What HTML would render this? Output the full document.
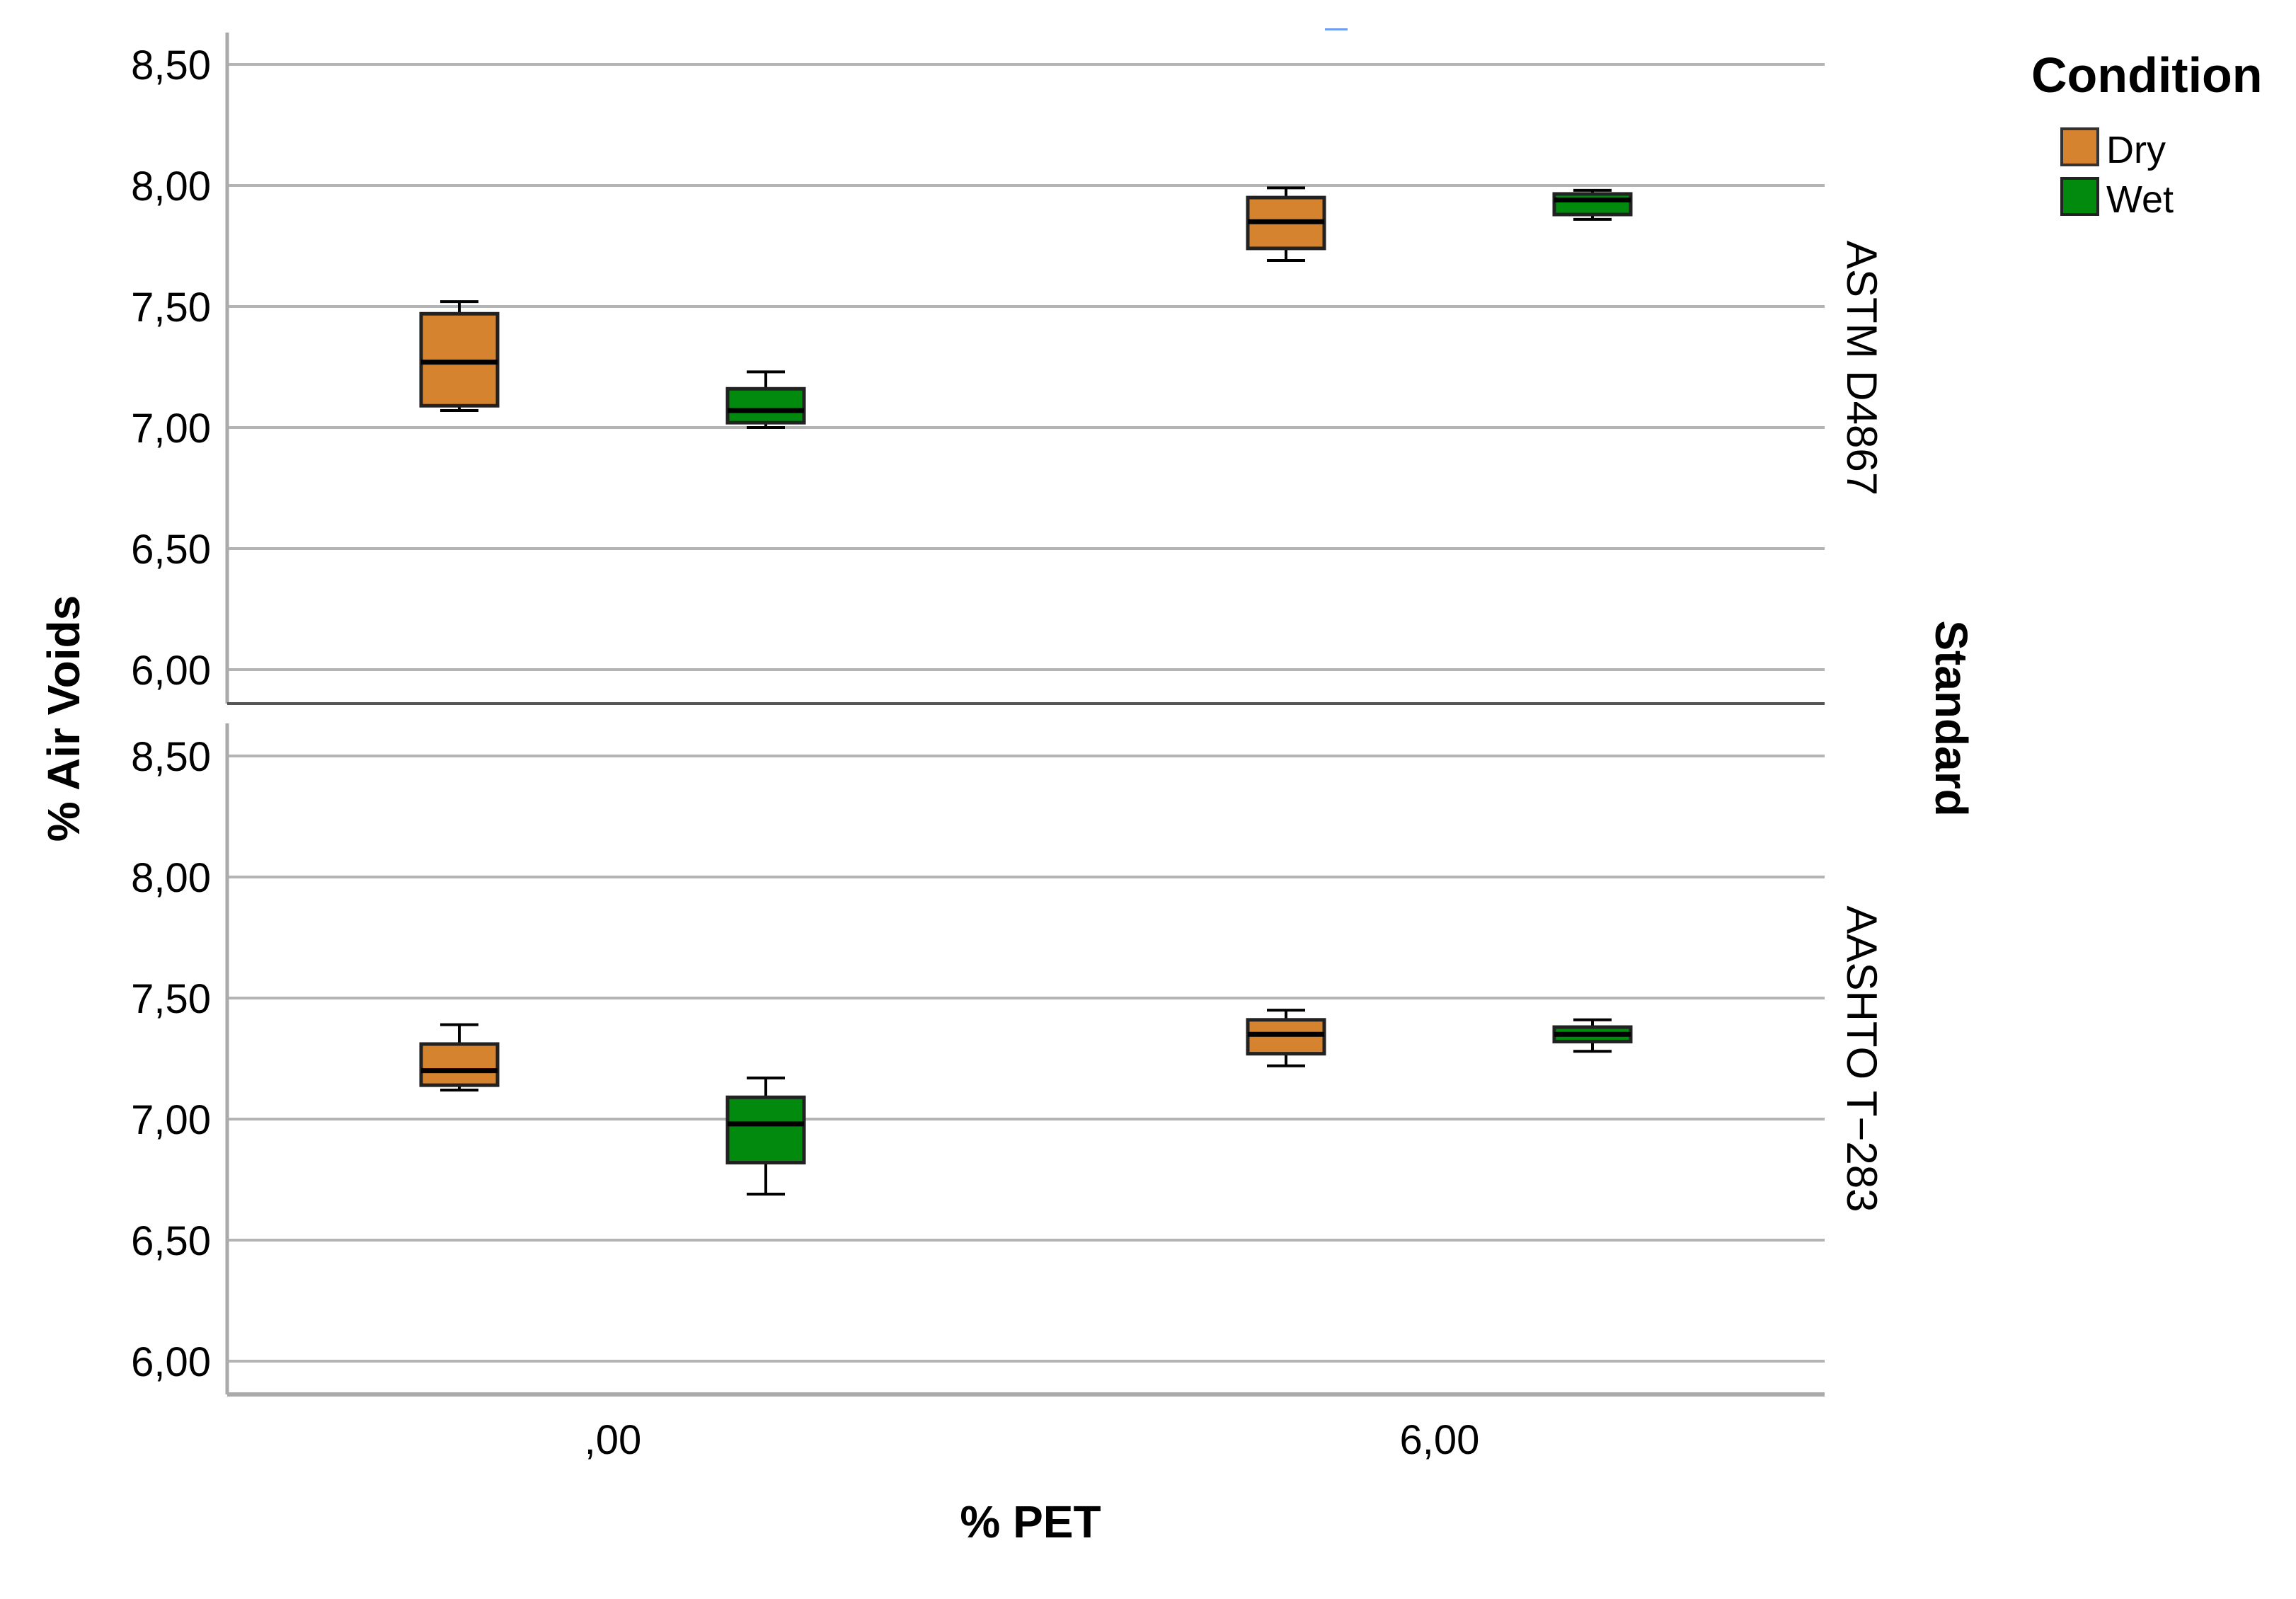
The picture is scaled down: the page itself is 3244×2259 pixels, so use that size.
<!DOCTYPE html>
<html><head><meta charset="utf-8"><style>
html,body{margin:0;padding:0;background:#fff;}
svg{display:block;font-family:"Liberation Sans",sans-serif;}
</style></head><body>
<svg id="chart" width="3244" height="2259" viewBox="0 0 3244 2259" xmlns="http://www.w3.org/2000/svg">
<g id="panels"></g>
<text x="0" y="0" transform="translate(112,1015) rotate(-90)" text-anchor="middle" font-weight="bold" font-size="64">% Air Voids</text>
<text x="1456" y="2172" text-anchor="middle" font-weight="bold" font-size="64">% PET</text>
<text transform="translate(2735,1015) rotate(90)" text-anchor="middle" font-weight="bold" font-size="64">Standard</text>
<rect x="1872" y="40" width="32" height="3" fill="#6f9cf0"/>
<g>
<text x="2870" y="130" font-weight="bold" font-size="70">Condition</text>
<rect x="2913" y="182" width="51" height="51" fill="#d6832f" stroke="#333" stroke-width="4"/>
<text x="2976" y="230" font-size="54">Dry</text>
<rect x="2913" y="252" width="51" height="51" fill="#028a0f" stroke="#222" stroke-width="4"/>
<text x="2976" y="300" font-size="54">Wet</text>
</g>
</svg>
<script>
const panelNames = ["ASTM D4867", "AASHTO T\u2212283"];
const categories = [",00", "6,00"];
const yTicks = [6.0, 6.5, 7.0, 7.5, 8.0, 8.5];
const yTickLabels = ["6,00", "6,50", "7,00", "7,50", "8,00", "8,50"];
// [min, q1, median, q3, max] per panel, category
const dryAstm = [[7.07, 7.09, 7.27, 7.47, 7.52], [7.69, 7.74, 7.85, 7.95, 7.99]];
const wetAstm = [[7.00, 7.02, 7.07, 7.16, 7.23], [7.86, 7.88, 7.94, 7.965, 7.98]];
const dryAashto = [[7.12, 7.14, 7.20, 7.31, 7.39], [7.22, 7.27, 7.35, 7.41, 7.45]];
const wetAashto = [[6.69, 6.82, 6.98, 7.09, 7.17], [7.28, 7.32, 7.35, 7.38, 7.41]];

const NS = "http://www.w3.org/2000/svg";
const g = document.getElementById("panels");
const X0 = 321, X1 = 2578;
const panelsGeom = [{top: 46, bottom: 994, y85: 91}, {top: 1022, bottom: 1970, y85: 1068}];
const stepPx = 171 / 0.5;
function yScale(p, v) { return panelsGeom[p].y85 + (8.5 - v) * stepPx; }
const catCenter = [866, 2034];
const groupOffset = [-217, 216];
const colors = ["#d6832f", "#028a0f"];
function mk(tag, attrs) { const e = document.createElementNS(NS, tag); for (const k in attrs) e.setAttribute(k, attrs[k]); g.appendChild(e); return e; }

const allData = [[dryAstm, wetAstm], [dryAashto, wetAashto]];
panelsGeom.forEach((pg, p) => {
  yTicks.forEach((t, i) => {
    const y = yScale(p, t);
    const l = mk("line", {x1: X0, x2: X1, y1: y, y2: y, stroke: "#b4b4b4", "stroke-width": 4});
    
    
    const tx = mk("text", {x: 298, y: y + 21, "text-anchor": "end", "font-size": 58});
    tx.textContent = yTickLabels[i];
    
    
  });
  const ax = mk("line", {x1: X0, x2: X0, y1: pg.top, y2: pg.bottom, stroke: "#aaa", "stroke-width": 5});
  
  
  const bx = mk("line", {x1: X0, x2: X1, y1: pg.bottom, y2: pg.bottom, stroke: p === 0 ? "#555" : "#aaa", "stroke-width": p === 0 ? 4 : 6});
  
  
  const ft = mk("text", {transform: "translate(2610," + ((pg.top + pg.bottom) / 2) + ") rotate(90)", "text-anchor": "middle", "font-size": 60});
  ft.textContent = panelNames[p];
  
  
  allData[p].forEach((series, s) => {
    series.forEach((d, c) => {
      const cx = catCenter[c] + groupOffset[s];
      const hw = 54, cw = 27;
      const yMin = yScale(p, d[0]), yQ1 = yScale(p, d[1]), yMed = yScale(p, d[2]), yQ3 = yScale(p, d[3]), yMax = yScale(p, d[4]);
      const w1 = mk("line", {x1: cx, x2: cx, y1: yMax, y2: yQ3, stroke: "#000", "stroke-width": 4});
      
      
      const w2 = mk("line", {x1: cx, x2: cx, y1: yQ1, y2: yMin, stroke: "#000", "stroke-width": 4});
      
      
      const c1 = mk("line", {x1: cx - cw, x2: cx + cw, y1: yMax, y2: yMax, stroke: "#000", "stroke-width": 4});
      
      
      const c2 = mk("line", {x1: cx - cw, x2: cx + cw, y1: yMin, y2: yMin, stroke: "#000", "stroke-width": 4});
      
      
      const r = mk("rect", {x: cx - hw, y: yQ3, width: 2 * hw, height: Math.max(1, yQ1 - yQ3), fill: colors[s], stroke: "#222", "stroke-width": 5});
      
      
      const m = mk("line", {x1: cx - hw, x2: cx + hw, y1: yMed, y2: yMed, stroke: "#000", "stroke-width": 7});
      
      
    });
  });
});
categories.forEach((cat, c) => {
  const t = mk("text", {x: catCenter[c], y: 2054, "text-anchor": "middle", "font-size": 58});
  t.textContent = cat;
  
  
});
</script>
</body></html>
